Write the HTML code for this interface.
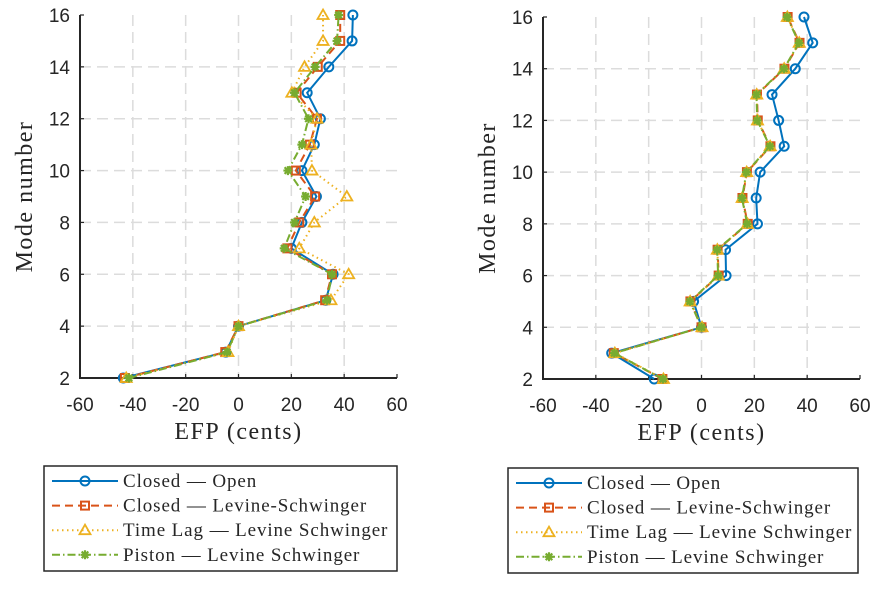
<!DOCTYPE html>
<html><head><meta charset="utf-8"><style>
body{margin:0;background:#fff;width:886px;height:590px;overflow:hidden}
svg{display:block}
text{font-family:"Liberation Sans",sans-serif;fill:#262626}
.serif{font-family:"Liberation Serif",serif}
</style></head><body>
<svg id="chart" width="886" height="590"></svg>
<script>
const modes=[2,3,4,5,6,7,8,9,10,11,12,13,14,15,16];
const xTicks=[-60,-40,-20,0,20,40,60];
const yTicks=[2,4,6,8,10,12,14,16];
const seriesNames=["Closed — Open","Closed — Levine-Schwinger","Time Lag — Levine Schwinger","Piston — Levine Schwinger"];
const leftOpen=[-43.6,-4.8,0,33,35.8,20,24,29.5,24,28.7,31,26,34.2,43,43.3];
const leftClosedLS=[-43,-5,0,32.8,35.4,18.5,23,29,21.7,27,29.7,22,30,38.5,38.5];
const leftTimeLag=[-42.5,-4,0,35,41.7,23,28.7,41,27.8,27.5,29.7,20.2,25,32,32];
const leftPiston=[-41.5,-4.3,0,33.5,35.4,17.3,21.2,25.4,18.7,24,26.5,21.2,29,37.3,37.9];
const rightOpen=[-17.9,-34,0,-3,9.3,9.1,21.2,20.7,22.2,31.3,29.2,26.7,35.5,42.1,38.8];
const rightClosedLS=[-14.8,-33.2,0,-4.2,6.5,6.1,17.5,15.5,17.2,26.1,21.3,21,31.4,37.1,32.6];
const rightTimeLag=[-14.4,-32.8,0.2,-4.3,6.4,6,17.4,15.4,17.1,26,21.2,20.9,31.3,37,32.5];
const rightPiston=[-14.6,-33,0,-4.4,6.3,5.9,17.3,15.3,17,25.9,21.1,20.8,31.2,36.9,32.4];

const NS="http://www.w3.org/2000/svg";
const svg=document.getElementById('chart');
const colors=["#0072BD","#D95319","#EDB120","#77AC30"];
const dashes=["","8,5","1.5,3.5","8,3,1.5,3"];
function mk(tag,attrs,parent){const e=document.createElementNS(NS,tag);for(const k in attrs)e.setAttribute(k,attrs[k]);(parent||svg).appendChild(e);return e;}

function marker(g,i,x,y){
  let m;
  if(i===0){m=mk('circle',{cx:x,cy:y,r:4.5,fill:'none',stroke:colors[0],'stroke-width':2},g);}
  else if(i===1){m=mk('rect',{x:x-4,y:y-4,width:8,height:8,fill:'none',stroke:colors[1],'stroke-width':2},g);}
  else if(i===2){m=mk('path',{d:`M${x-5.5},${y+4}L${x+5.5},${y+4}L${x},${y-5.5}Z`,fill:'none',stroke:colors[2],'stroke-width':1.8},g);}
  else {m=mk('path',{d:`M${x-4.5},${y}H${x+4.5}M${x},${y-4.5}V${y+4.5}M${x-3.3},${y-3.3}L${x+3.3},${y+3.3}M${x-3.3},${y+3.3}L${x+3.3},${y-3.3}`,stroke:colors[3],'stroke-width':2.2},g);}
  
  
}

function panel(side,L,R,T,B,data){
  const g=mk('g',{});
  
  
  const sx=v=>L+(v+60)/120*(R-L);
  const sy=v=>B-(v-2)/14*(B-T);
  xTicks.forEach(t=>{
    const x=sx(t);
    if(t>-60&&t<60){const gl=mk('line',{x1:x,x2:x,y1:T,y2:B,stroke:'#dcdcdc','stroke-width':1.5,'stroke-dasharray':'11,6'},g);}
    mk('line',{x1:x,x2:x,y1:B,y2:B-4,stroke:'#262626','stroke-width':1.2},g);
    const tx=mk('text',{x:x,y:B+33,'text-anchor':'middle','font-size':19},g);tx.textContent=t;
    
  });
  yTicks.forEach(t=>{
    const y=sy(t);
    if(t>2&&t<16){const gl=mk('line',{x1:L,x2:R,y1:y,y2:y,stroke:'#dcdcdc','stroke-width':1.5,'stroke-dasharray':'11,6'},g);}
    mk('line',{x1:L,x2:L+4,y1:y,y2:y,stroke:'#262626','stroke-width':1.2},g);
    const ty=mk('text',{x:L-10,y:y+7,'text-anchor':'end','font-size':19},g);ty.textContent=t;
    
  });
  const ax=mk('path',{d:`M${L},${T}V${B}H${R}`,fill:'none',stroke:'#262626','stroke-width':2},g);
  
  data.forEach((vals,i)=>{
    const pts=vals.map((v,k)=>sx(v)+','+sy(modes[k])).join(' ');
    const pl=mk('polyline',{points:pts,fill:'none',stroke:colors[i],'stroke-width':2,'stroke-dasharray':dashes[i]},g);
    
    vals.forEach((v,k)=>marker(g,i,sx(v),sy(modes[k])));
  });
  const xt=mk('text',{x:(L+R)/2,y:B+61,'text-anchor':'middle','font-size':24,'letter-spacing':1.5,class:'serif'},g);
  xt.textContent='EFP (cents)';
  
  const yt=mk('text',{x:0,y:0,'text-anchor':'middle','font-size':24,'letter-spacing':1.5,class:'serif',transform:`translate(${L-48},${(T+B)/2}) rotate(-90)`},g);
  yt.textContent='Mode number';
  
}

function legend(side,x0,y0,w,h){
  const g=mk('g',{});
  
  
  mk('rect',{x:x0,y:y0,width:w,height:h,fill:'#fff',stroke:'#262626','stroke-width':1.5},g);
  seriesNames.forEach((n,i)=>{
    const y=y0+15+i*24.6;
    const e=mk('g',{},g);
    
    
    mk('line',{x1:x0+8,x2:x0+74,y1:y,y2:y,stroke:colors[i],'stroke-width':2,'stroke-dasharray':dashes[i]},e);
    marker(e,i,x0+41,y);
    const t=mk('text',{x:x0+79,y:y+6,'font-size':19,'letter-spacing':0.9,class:'serif'},e);t.textContent=n;
  });
}

panel('left',80,397,15,378,[leftOpen,leftClosedLS,leftTimeLag,leftPiston]);
panel('right',543,860,17,379,[rightOpen,rightClosedLS,rightTimeLag,rightPiston]);
legend('left',44,466,353,105);
legend('right',508,468,350,105);
</script>
</body></html>
